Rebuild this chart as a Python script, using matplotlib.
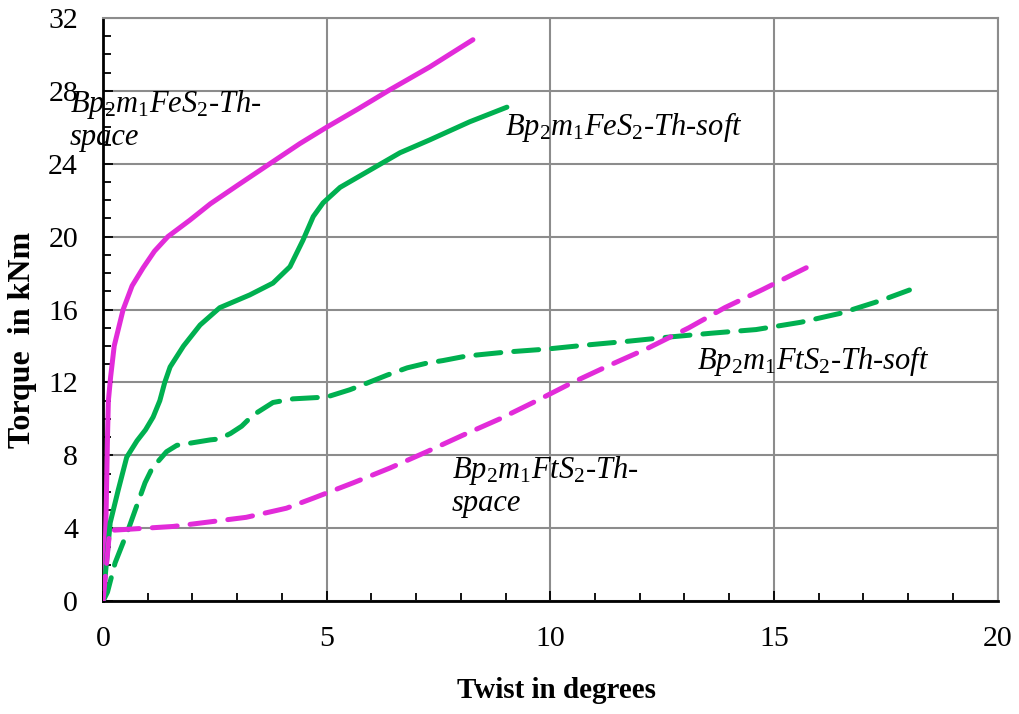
import matplotlib.pyplot as plt
from matplotlib.ticker import MultipleLocator

plt.rcParams['font.family'] = ['Liberation Serif', 'DejaVu Serif']
plt.rcParams['mathtext.fontset'] = 'custom'
plt.rcParams['mathtext.rm'] = 'Liberation Serif'
plt.rcParams['mathtext.it'] = 'Liberation Serif:italic'

# Torque (kNm) against twist (degrees)
feSpaceX = [0, 0.04, 0.07, 0.1, 0.12, 0.17, 0.25, 0.45, 0.65, 0.9, 1.15, 1.45, 1.94, 2.4,
            3, 3.73, 4.4, 5, 5.7, 6.41, 7.3, 8.27]
feSpaceY = [0, 2, 5, 9, 11, 12.3, 14, 16, 17.3, 18.3, 19.2, 20, 20.9, 21.8,
            22.8, 24, 25.1, 26, 27, 28.05, 29.3, 30.8]

feSoftX = [0, 0.04, 0.16, 0.34, 0.53, 0.76, 0.95, 1.12, 1.27, 1.38, 1.5, 1.8, 2.17, 2.61,
           3.28, 3.8, 4.18, 4.47, 4.7, 4.92, 5.3, 5.9, 6.64, 7.3, 8.2, 9.03]
feSoftY = [0, 1.15, 4.3, 6.1, 7.9, 8.8, 9.4, 10.1, 11, 12, 12.85, 14, 15.15, 16.1,
           16.8, 17.45, 18.35, 19.8, 21.1, 21.85, 22.7, 23.55, 24.6, 25.3, 26.3, 27.1]

ftSoftX = [0, 0.1, 0.27, 0.56, 0.72, 0.94, 1.1, 1.42, 1.65, 2.4, 2.6, 2.85, 3.1, 3.35, 3.8,
           4.25, 5, 5.52, 5.9, 6.35, 6.8, 7.24, 7.6, 8.13, 9.03, 9.92, 10.8, 11.78, 12.7,
           13.6, 14.6, 15.6, 16.5, 17.4, 18.03]
ftSoftY = [0, 0.5, 2.1, 3.9, 5.0, 6.5, 7.3, 8.2, 8.55, 8.85, 8.9, 9.2, 9.6, 10.2, 10.9,
           11.1, 11.2, 11.6, 11.96, 12.4, 12.8, 13.06, 13.2, 13.45, 13.67, 13.83, 14.05,
           14.27, 14.5, 14.7, 14.9, 15.3, 15.8, 16.5, 17.07]

ftSpaceX = [0, 0.15, 0.27, 1.57, 3.2, 4.1, 4.7, 5.6, 6.41, 7.24, 8.04, 8.87, 9.7, 10.5,
            11.33, 12.2, 13.1, 13.9, 14.75, 15.73]
ftSpaceY = [0, 3.9, 3.9, 4.1, 4.6, 5.1, 5.65, 6.5, 7.3, 8.2, 9.1, 10.0, 11.0, 12.0,
            12.95, 13.9, 15.0, 16.1, 17.1, 18.3]

magenta = '#E22BD9'
green = '#00B050'

fig = plt.figure(figsize=(10.2, 7.14), dpi=100)
ax = fig.add_axes([0.101, 0.158, 0.877, 0.817])

ax.plot(feSpaceX, feSpaceY, color=magenta, lw=3.6, solid_capstyle='round', zorder=3)
ax.plot(feSoftX, feSoftY, color=green, lw=3.6, solid_capstyle='round', zorder=3)
ax.plot(ftSoftX, ftSoftY, color=green, lw=3.6, dashes=(5, 2.6), dash_capstyle='round', zorder=3)
ax.plot(ftSpaceX, ftSpaceY, color=magenta, lw=3.6, dashes=(5, 2.6), dash_capstyle='round', zorder=3)

ax.set_xlim(0, 20)
ax.set_ylim(0, 32)
ax.xaxis.set_major_locator(MultipleLocator(5))
ax.xaxis.set_minor_locator(MultipleLocator(1))
ax.yaxis.set_major_locator(MultipleLocator(4))
ax.yaxis.set_minor_locator(MultipleLocator(1))
ax.grid(True, which='major', color='#8c8c8c', lw=1.5)
ax.set_axisbelow(True)
ax.tick_params(which='both', direction='in', color='black', labelsize=21.5)
ax.tick_params(which='major', length=7, width=1.3)
ax.tick_params(which='minor', length=6, width=1.3)
ax.tick_params(axis='x', pad=18)
ax.tick_params(axis='y', pad=18)

for side in ['left', 'bottom']:
    ax.spines[side].set_color('black')
    ax.spines[side].set_linewidth(2)
for side in ['top', 'right']:
    ax.spines[side].set_color('#8c8c8c')
    ax.spines[side].set_linewidth(1.5)

ax.set_xlabel('Twist in degrees', fontsize=21, fontweight='bold')
ax.set_ylabel('Torque  in kNm', fontsize=23, fontweight='bold')
ax.xaxis.set_label_coords(0.507, -0.13)
ax.yaxis.set_label_coords(-0.074, 0.448)

labelStyle = dict(fontsize=22, fontstyle='italic', va='center', ha='left', zorder=4)
ax.text(-0.74, 26.4, 'Bp$_2$m$_1$FeS$_2$-Th-\nspace', clip_on=False,
        linespacing=1.1, **labelStyle)
ax.text(8.98, 26.0, 'Bp$_2$m$_1$FeS$_2$-Th-soft', **labelStyle)
ax.text(13.27, 13.2, 'Bp$_2$m$_1$FtS$_2$-Th-soft', **labelStyle)
ax.text(7.8, 6.3, 'Bp$_2$m$_1$FtS$_2$-Th-\nspace', linespacing=1.1, **labelStyle)

fig.savefig('out.png', dpi=100)
plt.close()
